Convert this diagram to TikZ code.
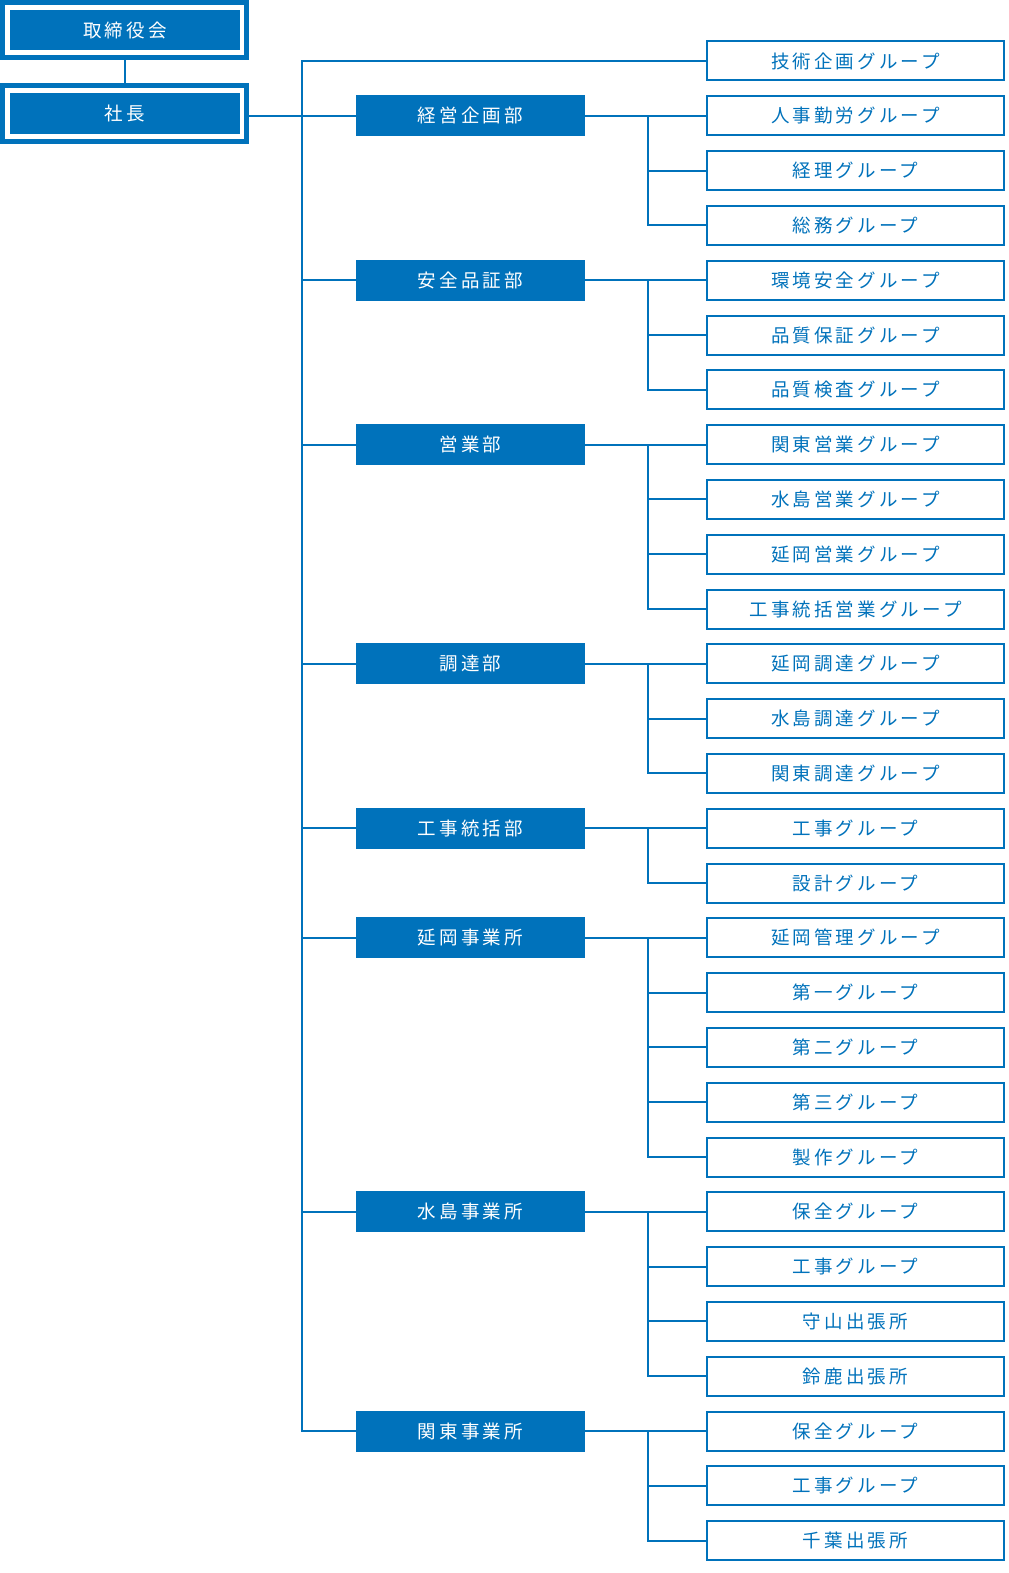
\documentclass[tikz,border=0pt]{standalone}
\usepackage{fontspec}
\setmainfont{Noto Sans CJK JP}[LetterSpace=17]
\definecolor{cblue}{RGB}{0,114,187}
\begin{document}
\begin{tikzpicture}[x=1bp,y=-1bp,
  grp/.style={draw=cblue,line width=2bp,fill=white,text=cblue,minimum width=297bp,minimum height=39bp,inner sep=0pt,font=\fontsize{18.5bp}{22bp}\selectfont},
  dept/.style={fill=cblue,text=white,minimum width=229bp,minimum height=41bp,inner sep=0pt,font=\fontsize{18.5bp}{22bp}\selectfont},
  topbox/.style={fill=cblue,text=white,minimum width=230bp,minimum height=40bp,inner sep=0pt,font=\fontsize{18.5bp}{22bp}\selectfont},
  ln/.style={draw=cblue,line width=2bp}]
\useasboundingbox (0,0) rectangle (1008,1573);
% top boxes
\node[topbox] (board) at (125,30) {取締役会};
\node[topbox] (pres) at (125,113.5) {社長};
\foreach \n in {board,pres}{
  \draw[cblue,line width=5bp] ([xshift=-7.5bp,yshift=7.5bp]\n.north west) rectangle ([xshift=6.5bp,yshift=-7.5bp]\n.south east);
}
% groups
\foreach \t [count=\i from 0] in {技術企画グループ,人事勤労グループ,経理グループ,総務グループ,環境安全グループ,品質保証グループ,品質検査グループ,関東営業グループ,水島営業グループ,延岡営業グループ,工事統括営業グループ,延岡調達グループ,水島調達グループ,関東調達グループ,工事グループ,設計グループ,延岡管理グループ,第一グループ,第二グループ,第三グループ,製作グループ,保全グループ,工事グループ,守山出張所,鈴鹿出張所,保全グループ,工事グループ,千葉出張所}{
  \node[grp] (g\i) at (855.5,61+54.8*\i) {\t};
}
% departments
\node[dept] (d1) at (470.5,0 |- g1) {経営企画部};
\node[dept] (d2) at (470.5,0 |- g4) {安全品証部};
\node[dept] (d3) at (470.5,0 |- g7) {営業部};
\node[dept] (d4) at (470.5,0 |- g11) {調達部};
\node[dept] (d5) at (470.5,0 |- g14) {工事統括部};
\node[dept] (d6) at (470.5,0 |- g16) {延岡事業所};
\node[dept] (d7) at (470.5,0 |- g21) {水島事業所};
\node[dept] (d8) at (470.5,0 |- g25) {関東事業所};
\coordinate (T) at (302,0);
\coordinate (B) at (648,0);
% board to president
\draw[ln] ([yshift=-7.5bp]board.south) -- ([yshift=7.5bp]pres.north);
% president to trunk
\draw[ln] ([xshift=6.5bp]pres.east |- d1.west) -- (d1.west);
\draw[ln] (g0.west) -| (T |- d8.west) -- (d8.west);
\foreach \d in {d2,d3,d4,d5,d6,d7}{\draw[ln] (T |- \d.west) -- (\d.west);}
% department branches: dept, first, last
\foreach \d/\f/\l in {d1/1/3,d2/4/6,d3/7/10,d4/11/13,d5/14/15,d6/16/20,d7/21/24,d8/25/27}{
  \draw[ln] (\d.east) -- (g\f.west);
  \draw[ln] (B |- \d.east) |- (g\l.west);
}
\foreach \i in {2,5,8,9,12,17,18,19,22,23,26}{\draw[ln] (B |- g\i.west) -- (g\i.west);}
\end{tikzpicture}
\end{document}
